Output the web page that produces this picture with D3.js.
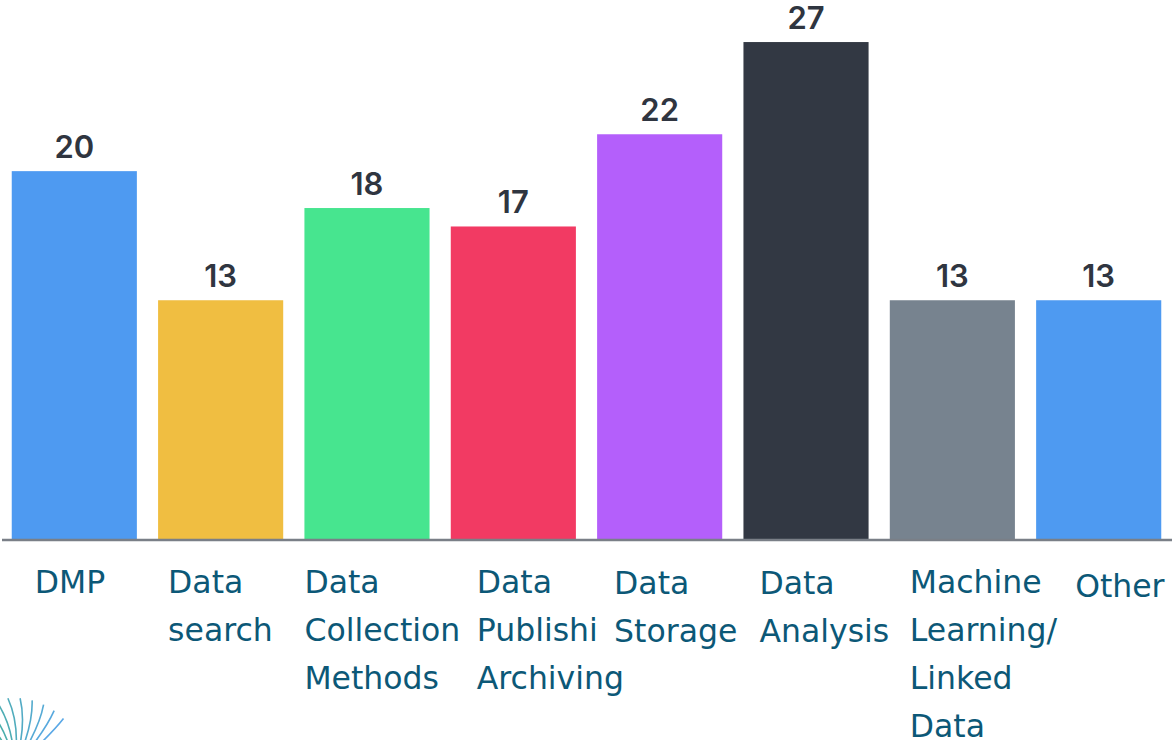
<!DOCTYPE html>
<html>
<head>
<meta charset="utf-8">
<script src="https://cdn.jsdelivr.net/npm/d3@7/dist/d3.min.js"></script>
<style>
  body { margin: 0; background: #fff; }
  svg { display: block; }
</style>
</head>
<body>
<script>
// data
var categories = ["DMP", "Data search", "Data Collection Methods", "Data Publishing/ Archiving",
                  "Data Storage", "Data Analysis", "Machine Learning/ Linked Data", "Other"];
var values = [20, 13, 18, 17, 22, 27, 13, 13];
// label lines as shown (the second line of the 4th label is cut off in the original)
var labelLines = [["DMP"], ["Data", "search"], ["Data", "Collection", "Methods"],
                  ["Data", "Publishi", "Archiving"], ["Data", "Storage"], ["Data", "Analysis"],
                  ["Machine", "Learning/", "Linked", "Data"], ["Other"]];
var colors = ["#4e9af1", "#f0be41", "#47e58f", "#f23a63", "#b45ffb", "#323843", "#77838f", "#4e9af1"];

// layout
var width = 1172, height = 740;
var baseY = 540;
var labelDx = [23, 10, 0, 26, 17, 16, 20, 39];   // text box offsets from bar left
var labelDy = [0, 0, 0, 0, 1, 1, 0, 4];

var svg = d3.select("body").append("svg").attr("width", width).attr("height", height);

var x = d3.scaleBand().domain(categories).range([1.5, 1171.5])
    .paddingInner(0.145).paddingOuter(0.07);
var y = d3.scaleLinear().domain([0, 29.28]).range([baseY, 0]);

// bars
svg.selectAll("rect.bar").data(values).enter().append("rect")
    .attr("class", "bar")
    .attr("x", function(d, i) { return x(categories[i]); })
    .attr("width", x.bandwidth())
    .attr("y", function(d) { return y(d); })
    .attr("height", function(d) { return baseY - y(d); })
    .attr("fill", function(d, i) { return colors[i]; });

// value labels
svg.selectAll("text.val").data(values).enter().append("text")
    .attr("class", "val")
    .attr("x", function(d, i) { return x(categories[i]) + x.bandwidth() / 2; })
    .attr("y", function(d) { return y(d) - 13; })
    .attr("text-anchor", "middle")
    .attr("font-family", "Inter, 'DejaVu Sans', sans-serif")
    .attr("font-size", 31).attr("font-weight", 600)
    .attr("fill", "#2f3540")
    .text(function(d) { return d; });

// baseline axis
var xAxis = d3.axisBottom(x).tickSize(0).tickFormat("");
var axisG = svg.append("g").attr("transform", "translate(0," + baseY + ")").call(xAxis);
axisG.select(".domain").attr("stroke", "#7a7f87").attr("stroke-width", 2.5)
    .attr("d", "M2,0H1172");

// category labels
var lab = svg.selectAll("text.cat").data(categories).enter().append("text")
    .attr("class", "cat")
    .attr("font-family", "'DejaVu Sans', Verdana, sans-serif")
    .attr("font-size", 31.5)
    .attr("fill", "#0c5877")
    .attr("transform", function(d, i) {
        return "translate(" + (x(d) + labelDx[i]) + "," + (593 + labelDy[i]) + ")";
    });
lab.selectAll("tspan").data(function(d, i) { return labelLines[i]; }).enter().append("tspan")
    .attr("x", 0)
    .attr("y", function(d, j) { return j * 48; })
    .text(function(d) { return d; });

// small fan logo in the bottom-left corner
var fan = svg.append("g").attr("transform", "translate(14,768)");
var fanColor = d3.scaleLinear().domain([0, 13]).range(["#3fb37a", "#5aa8e6"]);
d3.range(14).forEach(function(k) {
    var a = -175 + k * 10;
    var r = 70;
    var rad = a * Math.PI / 180;
    var ex = r * Math.cos(rad), ey = r * Math.sin(rad);
    fan.append("path")
        .attr("d", "M0,0 Q" + (ex * 0.5 + 10) + "," + (ey * 0.5 - 6) + " " + ex + "," + ey)
        .attr("fill", "none")
        .attr("stroke", fanColor(k))
        .attr("stroke-width", 1.6);
});
</script>
</body>
</html>
